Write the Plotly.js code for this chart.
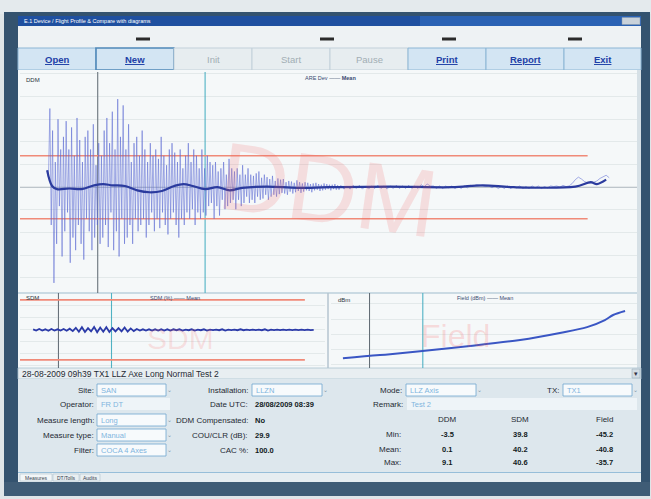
<!DOCTYPE html>
<html><head><meta charset="utf-8">
<script src="https://cdn.plot.ly/plotly-3.0.1.min.js"></script>
<style>html,body{margin:0;padding:0;background:#dfe5e8;}#chart{width:651px;height:499px;}</style>
</head><body><div id="chart"></div>
<script>
// ---------- DATA ----------
const ddmStart = 4.4, ddmStep = 0.22;
const ddmDense = [
 2.7, 1.5, 12.5, -6, 9, -15.2, 4, -9, 10.8, -3, 6, -11,
 8, -7, 10.5, -4, 6, -12, 9.5, -8, 5, -10, 11, -6, 7.5, -9, 4, -11.5, 8, -5, 9, -7, 6, -10, 10, -8, 3.5, -6, 7, -9, 5,
 -8, 9, -6, 11, -9.5, 7, -4, 12, -10, 6, -7, 14, -11, 8, -5, 13, -9, 6, -8, 10, -6, 4, -9, 7, -5, 8, -7, 5, -6, 9,
 -5, 6, -8, 4, -6, 7, -4, 5, -7, 6, -5, 4.5, -6.5, 8, -4, 5, -6, 3.5, -7.5, 6, -5, 7, -4, 5.5, -6, 4, -8, 6, -5, 3, -6, 5, -4, 7, -5, 4, -3.5, 6, -6, 5, -4, 3, -5, 6, -4,
 3, -4.5, 5, -3, 4, -2.5, 3.5, -5, 4, -3, 2.5, -4.5, 3, -2, 4, -3.5, 2, -3, 4.5, -2.5, 3, -2, 2.5, -3.5, 3, -2, 2, -3, 3.5, -2.5, 2, -1.5, 3, -2.5, 2,
 -2, 1.8, -2.5, 2.2, -1.5, 2.5, -2, 1.5, -1.8, 2, -1.2, 1.6, -2, 1.3, -1.5, 1.8, -1.2, 1, -1.5, 1.4, -1.1, 1.2, -0.9, 1.3, -1, 0.8, -1.2, 1, -0.7, 0.9, -1, 0.7, -0.8, 1.1, -0.6, 0.8, -0.9, 0.6, -0.7, 0.8, -0.5, 0.7, -0.6, 0.5, -0.8, 0.6, -0.5, 0.7, -0.4, 0.5, -0.6, 0.4, -0.5, 0.6, -0.4, 0.5, -0.3, 0.4, -0.5, 0.4, -0.3, 0.5, -0.4, 0.3, -0.4
];
const ddmTailStart = 52, ddmTailStep = 0.5;
const ddmTail = [
 0.3,-0.3,0.2,-0.3,0.3,-0.2,0.3,-0.3,0.2,-0.3,
 0.2,-0.2,0.3,-0.2,0.2,-0.3,0.2,-0.2,0.3,-0.2,
 0.2,-0.2,0.3,-0.2,0.2,-0.2,0.4,0.1,0.5,0.2,
 0.2,-0.2,0.2,-0.2,0.2,-0.1,0.2,-0.2,0.1,-0.2,
 0.2,-0.1,0.3,0.2,0.4,0.3,0.3,0.1,0.2,-0.1,
 0.2,-0.2,0.1,-0.2,0.2,-0.2,0.1,-0.1,0.2,-0.2,
 0.1,-0.2,0.2,-0.1,0.2,-0.2,0.1,-0.1,0.2,0.1,
 0.2,0,0.3,0.1,0.2,0.6,1.2,1.6,1.3,0.9,
 0.7,0.6,0.8,1.0,1.4,1.7,1.9,1.5
];
const meanX = [4.4, 5.2, 6, 8, 10, 12, 13.5, 15, 17, 19, 21, 23, 25, 26.5, 28, 30, 32, 34, 36, 40, 45, 50, 60, 70, 75, 80, 90, 92.5, 93.5, 95];
const meanY = [2.7, 0.2, -0.3, -0.2, -0.3, 0.3, 0.5, 0.3, 0.2, -0.5, -0.8, -0.6, 0.2, 0.5, 0.2, -0.3, 0, -0.5, -0.1, 0.1, -0.1, 0, 0.1, 0, 0.3, 0, 0.1, 0.8, 0.5, 1.2];
const ddmLimits = [-5, 5];

const sdmStart = 4.3, sdmStep = 1;
const sdmValues = [
 40.2, 39.8, 40.3, 39.8, 40.2, 39.7, 40.3, 39.8, 40.2, 39.8, 40.3, 39.7, 40.4, 39.6,
 40.7, 39.4, 40.9, 39.3, 40.6, 39.5, 41.0, 39.2, 40.8, 39.4, 40.9, 39.3, 40.6, 39.5, 40.6, 39.5, 40.8, 39.4, 40.5, 39.6,
 40.3, 39.8, 40.2, 39.8, 40.2, 39.8, 40.2, 39.8, 40.2, 39.8, 40.2, 39.8, 40.2, 39.9, 40.2, 39.8, 40.1, 39.9, 40.2, 39.8, 40.1, 39.9, 40.2, 39.8, 40.1, 39.9, 40.1, 39.9, 40.2, 39.8, 40.1, 39.9, 40.1, 39.9, 40.2, 39.9, 40.1, 39.9, 40.1, 39.9, 40.1, 39.9, 40.2, 39.8, 40.1, 39.9, 40.1, 39.9, 40.1, 39.9, 40.1, 39.9, 40.1, 39.9, 40.1, 39.9, 40.1, 39.9, 40.0
];
const sdmLimits = [30, 50];

const fieldX = [3.9, 16, 29.1, 45.4, 61.8, 74.8, 83.7, 89.5, 92.2, 96.1];
const fieldY = [-60.6, -59.0, -56.9, -54.2, -51.0, -47.3, -44.2, -40.5, -37.8, -35.7];

const cursors = [12.6, 30];

const buttonLabels = ["Open", "New", "Init", "Start", "Pause", "Print", "Report", "Exit"];
const buttonEnabled = [true, true, false, false, false, true, true, true];

const statCols = ["DDM", "SDM", "Field"];
const statRows = ["Min:", "Mean:", "Max:"];
const statValues = [["-3.5", "39.8", "-45.2"], ["0.1", "40.2", "-40.8"], ["9.1", "40.6", "-35.7"]];

const measureTitle = "28-08-2009 09h39 TX1 LLZ Axe Long Normal Test 2";
const leftLabels = ["Site:", "Operator:", "Measure length:", "Measure type:", "Filter:"];
const leftValues = ["SAN", "FR DT", "Long", "Manual", "COCA 4 Axes"];
const midLabels = ["Installation:", "Date UTC:", "DDM Compensated:", "COU/CLR (dB):", "CAC %:"];
const midValues = ["LLZN", "28/08/2009 08:39", "No", "29.9", "100.0"];
const tabLabels = ["Measures", "DT/Tolls", "Audits"];

// ---------- HELPERS ----------
const W = 651, H = 499;
const X = p => p / W, Y = p => 1 - p / H;
const FONT = "Liberation Sans Narrow, Arial Narrow, Liberation Sans, Arial";
const shapes = [], ann = [];
function rect(x0, y0, x1, y1, fill, line, lw) {
  shapes.push({type: 'rect', xref: 'paper', yref: 'paper', x0: X(x0), x1: X(x1), y0: Y(y1), y1: Y(y0),
    fillcolor: fill, line: {color: line || 'rgba(0,0,0,0)', width: lw || 0}, layer: 'below'});
}
function hline(x0, x1, y, color, w) {
  shapes.push({type: 'line', xref: 'paper', yref: 'paper', x0: X(x0), x1: X(x1), y0: Y(y), y1: Y(y), line: {color: color, width: w}, layer: 'below'});
}
function vline(x, y0, y1, color, w) {
  shapes.push({type: 'line', xref: 'paper', yref: 'paper', x0: X(x), x1: X(x), y0: Y(y0), y1: Y(y1), line: {color: color, width: w}, layer: 'below'});
}
function txt(x, y, text, size, color, anchor, extra) {
  ann.push(Object.assign({xref: 'paper', yref: 'paper', x: X(x), y: Y(y), text: text, showarrow: false,
    xanchor: anchor || 'left', yanchor: 'middle', font: {family: FONT, size: size, color: color}}, extra || {}));
}

// ---------- FRAME ----------
rect(0, 0, 651, 14, '#e4eaed');
rect(4, 12, 650, 496, '#34536f');
rect(4, 482, 650, 496, '#3f5c76');
rect(18, 16, 641, 26, '#1f50a0');
rect(420, 16, 641, 26, '#2a62b4');
txt(22, 21, "E.1 Device / Flight Profile & Compare with diagrams", 5.5, '#ffffff');
rect(622, 17.5, 640, 24.5, '#c9d2da', '#8a9aa8', 0.5);
rect(18, 26, 641, 48, '#eef2f4');
[143, 327, 449, 575].forEach(c => rect(c - 7, 37.5, c + 7, 40.5, '#2b2b2b'));

// buttons
const bx = [18, 96, 174, 252, 330, 408, 486, 564, 641];
buttonLabels.forEach((lab, i) => {
  const en = buttonEnabled[i];
  rect(bx[i], 48, bx[i + 1], 70, en ? '#d3e5f3' : '#e7edf0', en ? (i === 1 ? '#4f88b8' : '#8cb6d5') : '#c3d1da', i === 1 ? 1.6 : 1);
  txt((bx[i] + bx[i + 1]) / 2, 59, en ? '<b><u>' + lab + '</u></b>' : lab, 9.5, en ? '#1d3fa6' : '#a2adb4', 'center');
});

// plot panel
rect(18, 70, 637, 368, '#f5f8f9');
rect(637, 70, 641, 368, '#d6e0e6');
hline(18, 637, 293, '#9fbccd', 1.2);
vline(328, 293, 368, '#b4c4cf', 1.5);

// title strip
rect(18, 368, 641, 379, '#e8eef1', '#a9c1d1', 0.8);
txt(20, 373.5, measureTitle, 8.5, '#1f2a33');
rect(632, 369, 640, 378, '#d3dde4', '#8fa6b6', 0.5);
txt(636, 373.5, '▾', 7, '#334', 'center');

// form
rect(18, 379, 641, 473, '#dde7ed');
hline(18, 641, 473, '#7fb0d2', 1.5);
rect(18, 473, 641, 482, '#e6edf1');
const tabX = [[20, 52], [53, 79], [80, 100]];
tabLabels.forEach((t, i) => {
  rect(tabX[i][0], 474, tabX[i][1], 481, i === 0 ? '#f2f6f8' : '#e9eff2', '#a4b8c6', 0.5);
  txt((tabX[i][0] + tabX[i][1]) / 2, 477.5, t, 5, '#34414c', 'center');
});

const rowY = [390, 404, 420, 435, 450];
leftLabels.forEach((l, i) => {
  txt(96, rowY[i], l, 8, '#1e2a33', 'right');
  if (i === 1) {
    rect(97, rowY[i] - 6, 170, rowY[i] + 6, '#eef4f8');
  } else {
    rect(97, rowY[i] - 6, 166, rowY[i] + 6, '#f7fafc', '#6fa6cf', 0.8);
    txt(169, rowY[i], '⌄', 6, '#7f97a8', 'center');
  }
  txt(99, rowY[i], leftValues[i], 7.5, '#7fb5de');
});
midLabels.forEach((l, i) => {
  txt(250, rowY[i], l, 8, '#1e2a33', 'right');
  if (i === 0) {
    rect(252, rowY[i] - 6, 322, rowY[i] + 6, '#f7fafc', '#6fa6cf', 0.8);
    txt(325, rowY[i], '⌄', 6, '#7f97a8', 'center');
    txt(254, rowY[i], midValues[i], 7.5, '#7fb5de');
  } else {
    txt(253, rowY[i], '<b>' + midValues[i] + '</b>', 7.5, '#111a22');
  }
});
txt(404, 390, "Mode:", 8, '#1e2a33', 'right');
rect(406, 384, 476, 396, '#f7fafc', '#6fa6cf', 0.8);
txt(479, 390, '⌄', 6, '#7f97a8', 'center');
txt(408, 390, "LLZ Axis", 7.5, '#7fb5de');
txt(561, 390, "TX:", 8, '#1e2a33', 'right');
rect(563, 384, 632, 396, '#f7fafc', '#6fa6cf', 0.8);
txt(635, 390, '⌄', 6, '#7f97a8', 'center');
txt(565, 390, "TX1", 7.5, '#7fb5de');
txt(405, 404, "Remark:", 8, '#1e2a33', 'right');
rect(407, 398, 637, 410, '#eef4f8');
txt(409, 404, "Test 2", 7.5, '#7fb5de');

const colX = [447, 520, 604];
const statY = [434, 449, 462];
statCols.forEach((c, j) => txt(colX[j], 419, c, 8, '#1e2a33', 'center'));
statRows.forEach((r, i) => {
  txt(403, statY[i], r, 8, '#1e2a33', 'right');
  statValues[i].forEach((v, j) => txt(colX[j], statY[i], '<b>' + v + '</b>', 7.5, '#111a22', 'center'));
});

// plot labels
txt(24, 80, "DDM", 6, '#2b3540');
txt(330, 78, "ARE Dev —— <b>Mean</b>", 5.5, '#3a4a70', 'center');
txt(24, 298, "SDM", 6, '#2b3540');
txt(175, 298, "SDM (%) —— Mean", 5.5, '#3a4a70', 'center');
txt(336, 300, "dBm", 6, '#2b3540');
txt(485, 298, "Field (dBm) —— Mean", 5.5, '#3a4a70', 'center');

// watermarks
txt(328, 190, "DDM", 96, 'rgba(245,90,90,0.17)', 'center', {textangle: 8});
txt(180, 338, "SDM", 30, 'rgba(245,90,90,0.16)', 'center');
txt(455, 336, "Field", 32, 'rgba(245,90,90,0.2)', 'center');

// ---------- DATA-REF SHAPES ----------
function limitLine(xa, ya, y, xEnd) {
  shapes.push({type: 'line', xref: xa, yref: ya, x0: 0, x1: xEnd, y0: y, y1: y, line: {color: '#f08a78', width: 1.6}, layer: 'below'});
}
ddmLimits.forEach(v => limitLine('x', 'y', v, 92));
shapes.push({type: 'line', xref: 'x', yref: 'y', x0: 0, x1: 100, y0: 0, y1: 0, line: {color: 'rgba(110,125,135,0.45)', width: 1}, layer: 'below'});
sdmLimits.forEach(v => limitLine('x2', 'y2', v, 93.4));
const axPairs = [['x', 'y domain'], ['x2', 'y2 domain'], ['x3', 'y3 domain']];
axPairs.forEach(([xa, ya]) => {
  shapes.push({type: 'line', xref: xa, yref: ya, x0: cursors[0], x1: cursors[0], y0: 0, y1: 1, line: {color: '#5c6670', width: 1}, layer: 'below'});
  shapes.push({type: 'line', xref: xa, yref: ya, x0: cursors[1], x1: cursors[1], y0: 0, y1: 1, line: {color: '#4fb2c4', width: 1.1}, layer: 'below'});
});

// ---------- TRACES ----------
const ddmX = ddmDense.map((_, i) => ddmStart + i * ddmStep).concat(ddmTail.map((_, i) => ddmTailStart + i * ddmTailStep));
const ddmY = ddmDense.concat(ddmTail);
const sdmX = sdmValues.map((_, i) => sdmStart + i * sdmStep);

const traces = [
  {x: ddmX, y: ddmY, xaxis: 'x', yaxis: 'y', mode: 'lines', line: {color: 'rgba(90,105,210,0.6)', width: 0.9}, hoverinfo: 'skip'},
  {x: meanX, y: meanY, xaxis: 'x', yaxis: 'y', mode: 'lines', line: {color: '#2b3b9e', width: 2.2, shape: 'spline'}, hoverinfo: 'skip'},
  {x: sdmX, y: sdmValues, xaxis: 'x2', yaxis: 'y2', mode: 'lines', line: {color: '#2b3aa8', width: 1.8}, hoverinfo: 'skip'},
  {x: fieldX, y: fieldY, xaxis: 'x3', yaxis: 'y3', mode: 'lines', line: {color: '#3a56c4', width: 2, shape: 'spline'}, hoverinfo: 'skip'}
];

const baseAx = {showticklabels: false, ticks: '', zeroline: false, showline: false, fixedrange: true};
const gridAx = Object.assign({}, baseAx, {showgrid: true, gridcolor: 'rgba(120,140,150,0.14)', gridwidth: 1});
const layout = {
  width: W, height: H, margin: {l: 0, r: 0, t: 0, b: 0},
  paper_bgcolor: '#dfe5e8', plot_bgcolor: 'rgba(0,0,0,0)', showlegend: false,
  xaxis: Object.assign({}, baseAx, {showgrid: false, domain: [X(20), X(637)], range: [0, 100]}),
  yaxis: Object.assign({}, gridAx, {domain: [Y(293), Y(72)], range: [-16.8, 18.3], dtick: 3.6, tick0: 0}),
  xaxis2: Object.assign({}, baseAx, {showgrid: false, domain: [X(20), X(325)], range: [0, 100]}),
  yaxis2: Object.assign({}, gridAx, {domain: [Y(368), Y(293)], range: [27.3, 52.3], dtick: 4, tick0: 40}),
  xaxis3: Object.assign({}, baseAx, {showgrid: false, domain: [X(331), X(637)], range: [0, 100]}),
  yaxis3: Object.assign({}, gridAx, {domain: [Y(368), Y(293)], range: [-65.8, -26.2], dtick: 8, tick0: -40}),
  shapes: shapes, annotations: ann
};
Plotly.newPlot('chart', traces, layout, {displayModeBar: false, staticPlot: true});
</script></body></html>
